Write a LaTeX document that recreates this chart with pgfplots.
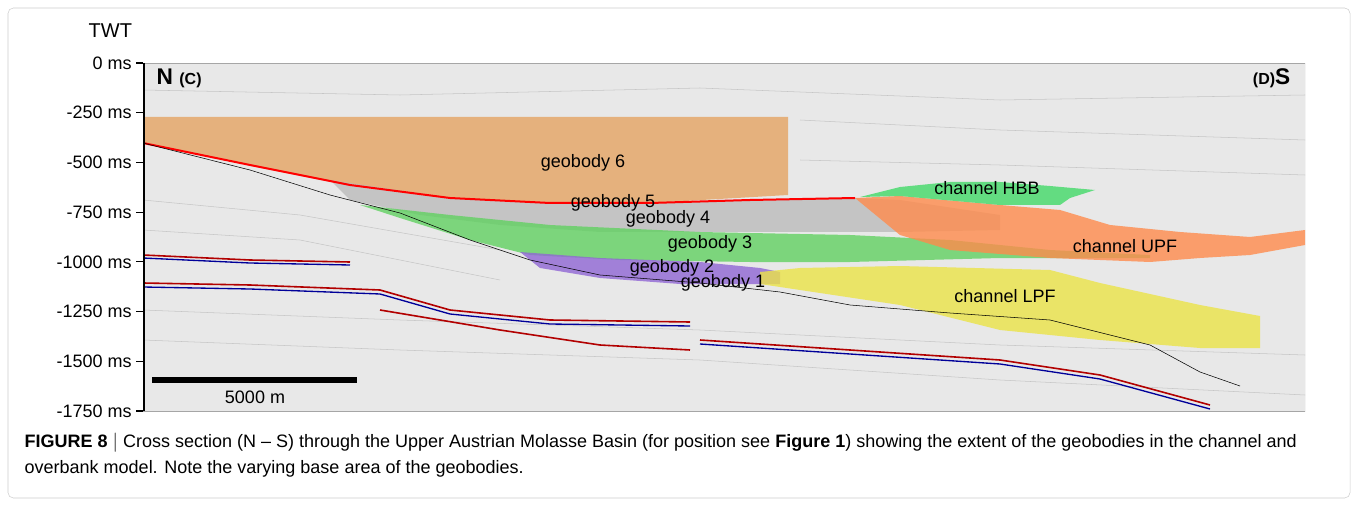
\documentclass[border=0pt]{standalone}
\usepackage{pgfplots}
\pgfplotsset{compat=1.18}
\usepackage{fontspec}
\setmainfont{Liberation Sans}
\begin{document}
\begin{tikzpicture}[x=0.75pt,y=0.75pt]
\useasboundingbox (0,0) rectangle (1358,506);
\draw[gray!40,rounded corners=4pt] (8,8) rectangle (1350,498);
\node[anchor=base west,font=\fontsize{15}{17}\selectfont] at (84,468) {TWT};
\begin{axis}[at={(107.25pt,71.25pt)},anchor=south west,scale only axis,
  width=871.5pt,height=261pt,xmin=143,xmax=1305,ymin=63,ymax=411,y dir=reverse,
  axis line style={draw=none},xtick=\empty,ytick pos=left,
  ytick={63,112.7,162.4,212.1,261.9,311.6,361.3,411},
  yticklabels={0 ms,-250 ms,-500 ms,-750 ms,-1000 ms,-1250 ms,-1500 ms,-1750 ms},
  yticklabel style={font=\fontsize{13.5}{15}\selectfont},
  tick align=outside,major tick length=5pt,tick style={black,thick},clip=true]
\fill[gray!18] (axis cs:143,63) rectangle (axis cs:1305,411);
\addplot[gray!45,thin] coordinates {(143,90)(400,95)(700,88)(1000,100)(1305,95)};
\addplot[gray!45,thin] coordinates {(800,120)(1000,130)(1305,140)};
\addplot[gray!45,thin] coordinates {(800,160)(1000,165)(1305,175)};
\addplot[gray!45,thin] coordinates {(143,200)(300,215)(500,250)};
\addplot[gray!45,thin] coordinates {(143,230)(300,240)(500,280)};
\addplot[gray!45,thin] coordinates {(143,310)(400,320)(700,330)(1000,345)(1305,355)};
\addplot[gray!45,thin] coordinates {(143,340)(400,350)(700,360)(1000,380)(1305,395)};
\addplot[red!70!black,line width=1.2pt] coordinates {(143,255)(250,260)(350,262)};
\addplot[blue!60!black,line width=1pt] coordinates {(143,258)(250,263)(350,265)};
\addplot[red!70!black,line width=1.2pt] coordinates {(143,283)(250,285)(380,290)(450,310)(550,320)(690,322)};
\addplot[blue!60!black,line width=1pt] coordinates {(143,287)(250,289)(380,294)(450,314)(550,324)(690,326)};
\addplot[red!70!black,line width=1.2pt] coordinates {(380,310)(500,330)(600,345)(690,350)};
\addplot[red!70!black,line width=1.2pt] coordinates {(700,340)(850,350)(1000,360)(1100,375)(1210,405)};
\addplot[blue!60!black,line width=1pt] coordinates {(700,344)(850,354)(1000,364)(1100,379)(1210,409)};
\addplot[fill=orange!45!brown!75,fill opacity=0.75,draw=none] coordinates {(143,117)(788,117)(788,195)(650,203)(550,203)(450,198)(350,185)(250,165)(143,143)} --cycle;
\addplot[fill=gray!55,fill opacity=0.75,draw=none] coordinates {(330,180)(450,198)(550,203)(650,203)(750,200)(855,198)(900,200)(1000,215)(1000,230)(900,232)(700,232)(600,232)(500,225)(420,215)(350,200)} --cycle;
\addplot[fill=green!55!gray!80,fill opacity=0.8,draw=none] coordinates {(360,205)(450,215)(550,225)(700,232)(850,235)(950,240)(1050,250)(1150,255)(1150,258)(1000,258)(850,262)(750,262)(620,260)(530,255)(470,240)(400,218)} --cycle;
\addplot[fill=violet!55!blue!60,fill opacity=0.8,draw=none] coordinates {(520,252)(600,258)(700,262)(760,268)(780,272)(780,284)(680,284)(600,278)(540,268)} --cycle;
\addplot[fill=yellow!75!olive!70,fill opacity=0.8,draw=none] coordinates {(760,272)(800,268)(900,266)(1050,270)(1100,283)(1200,305)(1260,316)(1260,348)(1200,348)(1100,340)(1000,330)(900,305)(800,290)(760,284)} --cycle;
\addplot[fill=orange!70!red!70,fill opacity=0.8,draw=none] coordinates {(855,198)(900,196)(1000,205)(1060,210)(1110,225)(1180,232)(1250,237)(1305,230)(1305,245)(1250,255)(1200,258)(1150,262)(1050,258)(950,250)(900,235)} --cycle;
\addplot[fill=green!60!teal!70,fill opacity=0.85,draw=none] coordinates {(860,197)(900,187)(950,182)(1000,182)(1050,186)(1095,190)(1070,198)(1060,205)(1000,205)(900,196)} --cycle;
\addplot[red,line width=1.5pt] coordinates {(143,143)(250,165)(350,185)(450,198)(550,203)(650,203)(750,200)(855,198)};
\addplot[black,thin] coordinates {(143,143)(250,170)(330,195)(400,213)(470,240)(530,260)(600,275)(700,283)(780,292)(850,305)(950,313)(1050,320)(1150,345)(1200,372)(1240,386)};
\addplot[black,line width=4pt] coordinates {(152,380)(357,380)};
\draw[gray!70] (axis cs:143,63) rectangle (axis cs:1305,411);
\draw[black,line width=3pt] (axis cs:143,63) -- (axis cs:143,411);
\begin{scope}[font=\fontsize{13.5}{15}\selectfont]
\node at (axis cs:255,397) {5000 m};
\node at (axis cs:583,163) {geobody 6};
\node at (axis cs:613,203) {geobody 5};
\node at (axis cs:668,219) {geobody 4};
\node at (axis cs:710,244) {geobody 3};
\node at (axis cs:672,268) {geobody 2};
\node at (axis cs:723,283) {geobody 1};
\node at (axis cs:987,188) {channel HBB};
\node at (axis cs:1125,246) {channel UPF};
\node at (axis cs:1005,296) {channel LPF};
\node[anchor=west] at (axis cs:152,78) {\fontsize{17}{19}\selectfont\bfseries N \fontsize{12}{14}\selectfont(C)};
\node[anchor=east] at (axis cs:1295,78) {\fontsize{12}{14}\selectfont\bfseries(D)\fontsize{17}{19}\selectfont S};
\end{scope}
\end{axis}
\node[anchor=north west,align=left,font=\fontsize{13.5}{19.5}\selectfont] at (20,78) {\textbf{FIGURE 8 $|$} Cross section (N -- S) through the Upper Austrian Molasse Basin (for position see \textbf{Figure 1}) showing the extent of the geobodies in the channel and\\overbank model. Note the varying base area of the geobodies.};
\end{tikzpicture}
\end{document}
